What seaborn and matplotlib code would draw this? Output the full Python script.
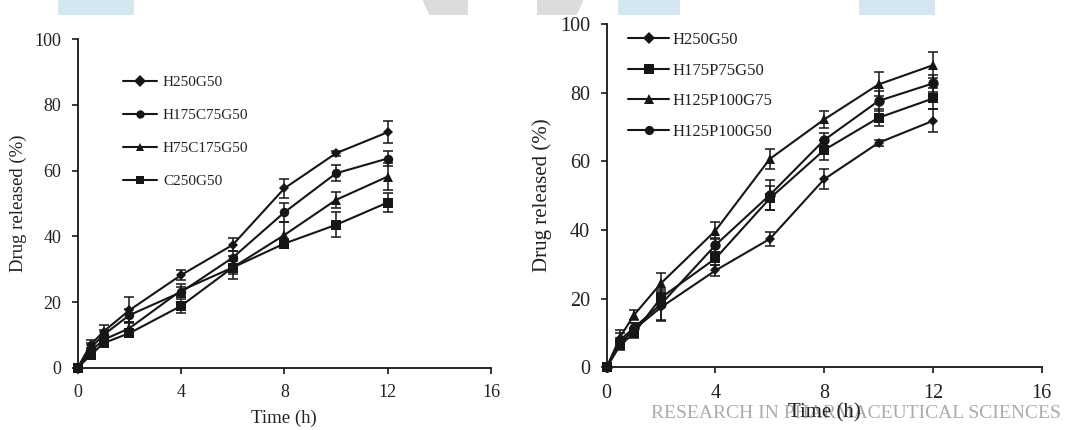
import numpy as np
import pandas as pd
import matplotlib
matplotlib.use("Agg")
import matplotlib.pyplot as plt
import seaborn as sns
from matplotlib.patches import Rectangle, Circle

# ---------------- data ----------------
time_h = [0, 0.5, 1, 2, 4, 6, 8, 10, 12]

left_labels = ["H250G50", "H175C75G50", "H75C175G50", "C250G50"]
l_h250g50 = [0, 7.0, 11.0, 17.5, 28.2, 37.4, 54.6, 65.3, 71.7]
l_h250g50_err = [0, 1.5, 2.0, 4.0, 1.5, 2.0, 3.0, 0.8, 3.3]
l_h175c75g50 = [0, 6.0, 10.0, 16.0, 23.0, 33.5, 47.3, 59.2, 63.7]
l_h175c75g50_err = [0, 1.5, 1.5, 2.0, 1.5, 2.0, 3.0, 2.5, 2.3]
l_h75c175g50 = [0, 5.0, 8.5, 12.0, 23.5, 30.5, 40.4, 51.1, 58.2]
l_h75c175g50_err = [0, 1.0, 1.5, 2.0, 2.0, 2.0, 4.0, 2.5, 4.0]
l_c250g50 = [0, 3.8, 7.5, 10.5, 18.8, 30.5, 37.8, 43.5, 50.3]
l_c250g50_err = [0, 1.0, 1.0, 1.0, 2.0, 3.5, 1.5, 3.8, 3.0]

right_labels = ["H250G50", "H175P75G50", "H125P100G75", "H125P100G50"]
r_h250g50 = [0, 7.0, 11.0, 17.5, 28.2, 37.4, 54.8, 65.4, 71.8]
r_h250g50_err = [0, 1.5, 2.0, 4.0, 1.5, 2.0, 3.0, 0.8, 3.3]
r_h175p75g50 = [0, 6.5, 9.9, 20.3, 31.7, 49.2, 63.3, 72.7, 78.3]
r_h175p75g50_err = [0, 1.5, 1.5, 2.0, 2.0, 3.5, 3.0, 2.5, 3.0]
r_h125p100g75 = [0, 8.9, 15.2, 24.5, 39.8, 60.7, 72.2, 82.4, 88.0]
r_h125p100g75_err = [0, 2.0, 1.5, 3.0, 2.5, 3.0, 2.5, 3.5, 3.7]
r_h125p100g50 = [0, 8.0, 11.5, 18.4, 35.6, 50.2, 66.2, 77.6, 82.7]
r_h125p100g50_err = [0, 2.0, 1.5, 4.5, 2.0, 4.5, 2.0, 3.0, 2.5]

x_ticks = [0, 4, 8, 12, 16]
y_ticks = [0, 20, 40, 60, 80, 100]
x_label = "Time (h)"
y_label = "Drug released (%)"
watermark = "RESEARCH IN PHARMACEUTICAL SCIENCES"

left_series = [l_h250g50, l_h175c75g50, l_h75c175g50, l_c250g50]
left_errs = [l_h250g50_err, l_h175c75g50_err, l_h75c175g50_err, l_c250g50_err]
left_markers = ["D", "o", "^", "s"]
right_series = [r_h250g50, r_h175p75g50, r_h125p100g75, r_h125p100g50]
right_errs = [r_h250g50_err, r_h175p75g50_err, r_h125p100g75_err, r_h125p100g50_err]
right_markers = ["D", "s", "^", "o"]

# ---------------- style ----------------
sns.set_theme(style="ticks")
plt.rcParams["font.family"] = ["Liberation Serif", "DejaVu Serif"]
INK = "#161616"
TXT = "#222222"

W, H = 1067, 430
fig = plt.figure(figsize=(W / 100, H / 100), dpi=100)

# background decorations (figure pixel coordinates)
bg = fig.add_axes([0, 0, 1, 1], zorder=-1)
bg.set_xlim(0, W)
bg.set_ylim(H, 0)
bg.axis("off")
blue = "#d4e7f1"
for x0, w in [(58, 76), (618, 62), (859, 76)]:
    bg.add_patch(Rectangle((x0, 0), w, 15, color=blue, lw=0))
clip = Rectangle((0, 0), W, 15, transform=bg.transData)
gray_c = Circle((503, -28), 85, color="#dcdcdc", lw=0)
bg.add_patch(gray_c)
gray_c.set_clip_path(clip)
hole = Rectangle((468, 0), 69, 15, color="white", lw=0)
bg.add_patch(hole)
bg.text(856, 413, watermark, ha="center", va="center", fontsize=14,
        color="#ababab", family=["Liberation Serif"])


def make_panel(rect, labels, series, errs, markers, fs_tick, fs_lab, fs_leg,
               leg_anchor, leg_kw, ms_scale, ylab_x, xlab_y):
    ax = fig.add_axes(rect)
    ax.set_facecolor("none")
    frames = []
    for lab, vals in zip(labels, series):
        frames.append(pd.DataFrame({"time": time_h, "released": vals, "formulation": lab}))
    df = pd.concat(frames, ignore_index=True)
    sizes = {"D": 5.0, "o": 6.8, "^": 7.0, "s": 6.6}
    sns.lineplot(data=df, x="time", y="released", hue="formulation", style="formulation",
                 hue_order=labels, style_order=labels,
                 palette=[INK] * len(labels), markers=dict(zip(labels, markers)),
                 dashes=False, linewidth=1.5, markersize=6 * ms_scale,
                 markeredgewidth=0, ax=ax, zorder=3)
    for line, m in zip(ax.lines, markers):
        line.set_markersize(sizes[m] * ms_scale)
        line.set_clip_on(False)
    for vals, e in zip(series, errs):
        ax.errorbar(time_h, vals, yerr=e, fmt="none", ecolor=INK, elinewidth=1.1,
                    capsize=3.3 * ms_scale, capthick=1.1, zorder=2)
    ax.set_xlim(0, 16)
    ax.set_ylim(0, 100)
    ax.set_xticks(x_ticks)
    ax.set_yticks(y_ticks)
    ax.tick_params(axis="both", direction="out", length=4, width=1.2, color=INK,
                   labelsize=fs_tick, labelcolor=TXT, pad=8)
    ax.spines["top"].set_visible(False)
    ax.spines["right"].set_visible(False)
    for s in ("left", "bottom"):
        ax.spines[s].set_color(INK)
        ax.spines[s].set_linewidth(1.3)
    ax.set_xlabel("")
    ax.set_ylabel("")
    x0 = rect[0] * W
    x1 = (rect[0] + rect[2]) * W
    fig.text(ylab_x / W, rect[1] + rect[3] / 2, y_label,
             rotation=90, ha="center", va="center", fontsize=fs_lab, color=TXT)
    fig.text((x0 + (x1 - x0) * 0.5) / W, 1 - xlab_y / H, x_label,
             ha="center", va="center", fontsize=fs_lab, color=TXT)
    handles, labs = ax.get_legend_handles_labels()
    leg = ax.legend(handles, labs, loc="upper left", bbox_to_anchor=leg_anchor,
                    frameon=False, fontsize=fs_leg, borderpad=0, borderaxespad=0,
                    **leg_kw)
    for t in leg.get_texts():
        t.set_color(TXT)
    return ax


make_panel([77.7 / W, (H - 367.7) / H, 413.3 / W, 328.4 / H],
           left_labels, left_series, left_errs, left_markers,
           fs_tick=13, fs_lab=13.5, fs_leg=11,
           leg_anchor=(0.11, 0.89),
           leg_kw=dict(handlelength=2.2, handletextpad=0.4, labelspacing=1.27),
           ms_scale=1.0, ylab_x=18, xlab_y=418)

make_panel([606.7 / W, (H - 367.3) / H, 435.0 / W, 343.3 / H],
           right_labels, right_series, right_errs, right_markers,
           fs_tick=14.5, fs_lab=15, fs_leg=12,
           leg_anchor=(0.05, 0.977),
           leg_kw=dict(handlelength=2.45, handletextpad=0.2, labelspacing=0.88),
           ms_scale=1.1, ylab_x=542, xlab_y=413)

fig.savefig("out.png", dpi=100)
